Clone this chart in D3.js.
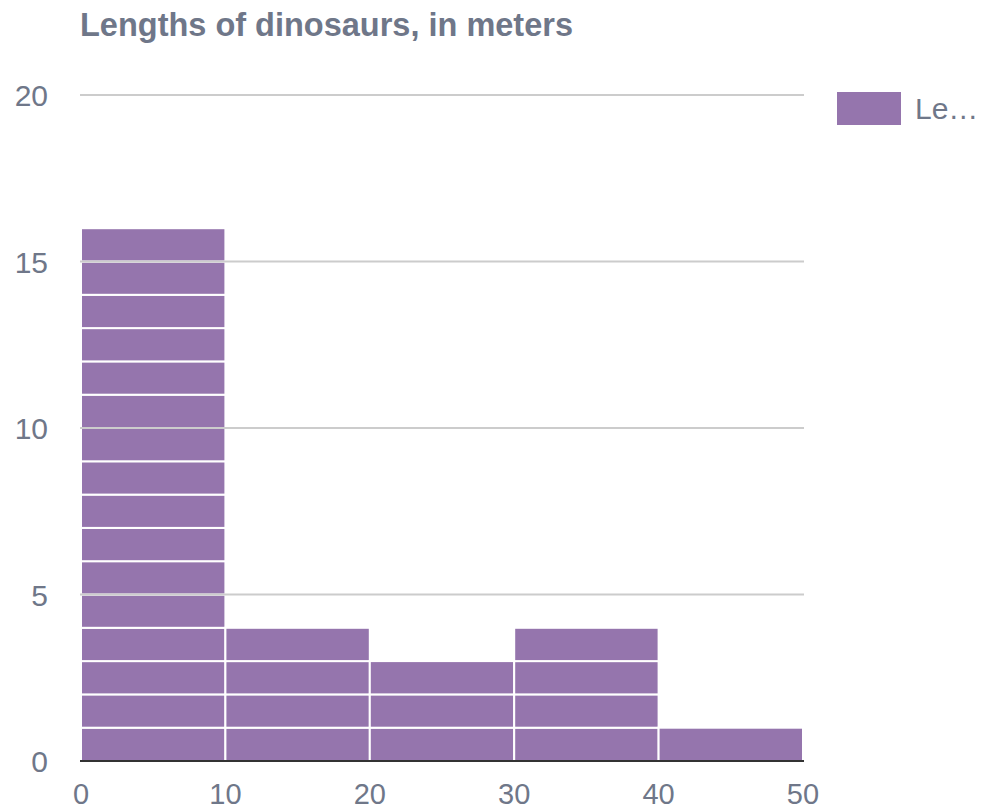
<!DOCTYPE html>
<html>
<head>
<meta charset="utf-8">
<script src="https://cdnjs.cloudflare.com/ajax/libs/d3/7.8.5/d3.min.js"></script>
<style>
  html, body { margin: 0; padding: 0; background: #fff; }
  svg { display: block; font-family: "Liberation Sans", Arial, sans-serif; }
</style>
</head>
<body>
<svg id="chart" width="988" height="811"></svg>
<script>
// Histogram of dinosaur lengths (meters), 10 m bins
const binStarts = [0, 10, 20, 30, 40];
const binWidth = 10;
const binCounts = [16, 4, 3, 4, 1];
const yTicks = [0, 5, 10, 15, 20];
const xTicks = [0, 10, 20, 30, 40, 50];
const seriesName = "Length";

const barColor = "#9575ad";
const textColor = "#6f7789";
const gridColor = "#cccccc";

const svg = d3.select("#chart");
const plot = { left: 81, right: 803, top: 95, bottom: 761 };

const x = d3.scaleLinear().domain([0, 50]).range([plot.left, plot.right]);
const y = d3.scaleLinear().domain([0, 20]).range([plot.bottom, plot.top]);

// title
svg.append("text")
  .attr("x", 80).attr("y", 36)
  .attr("font-size", 32.5).attr("font-weight", "bold")
  .attr("fill", textColor)
  .text("Lengths of dinosaurs, in meters");

// stacked unit items per bin
const items = [];
binStarts.forEach((s, i) => {
  for (let k = 0; k < binCounts[i]; k++) items.push({ x0: s, x1: s + binWidth, k });
});
svg.append("g").selectAll("rect").data(items).join("rect")
  .attr("x", d => x(d.x0))
  .attr("width", d => x(d.x1) - x(d.x0))
  .attr("y", d => y(d.k + 1))
  .attr("height", d => y(d.k) - y(d.k + 1))
  .attr("fill", barColor)
  .attr("stroke", "#ffffff")
  .attr("stroke-width", 2);

// horizontal gridlines
svg.append("g").selectAll("line").data(yTicks.filter(t => t > 0)).join("line")
  .attr("x1", plot.left - 1).attr("x2", plot.right + 1)
  .attr("y1", d => y(d)).attr("y2", d => y(d))
  .attr("stroke", gridColor).attr("stroke-width", 2);

// baseline
svg.append("line")
  .attr("x1", plot.left - 1).attr("x2", plot.right + 1)
  .attr("y1", y(0)).attr("y2", y(0))
  .attr("stroke", "#333333").attr("stroke-width", 2);

// y axis labels
svg.append("g").selectAll("text").data(yTicks).join("text")
  .attr("x", 48).attr("y", d => y(d) + 11)
  .attr("text-anchor", "end")
  .attr("font-size", 30).attr("fill", textColor)
  .text(d => d);

// x axis labels
svg.append("g").selectAll("text").data(xTicks).join("text")
  .attr("x", d => x(d)).attr("y", 804)
  .attr("text-anchor", "middle")
  .attr("font-size", 29).attr("fill", textColor)
  .text(d => d);

// legend
svg.append("rect")
  .attr("x", 837).attr("y", 92).attr("width", 64).attr("height", 33)
  .attr("fill", barColor);
svg.append("text")
  .attr("x", 915).attr("y", 119)
  .attr("font-size", 30).attr("fill", textColor)
  .text(seriesName.slice(0, 2) + "\u2026");
</script>
</body>
</html>
